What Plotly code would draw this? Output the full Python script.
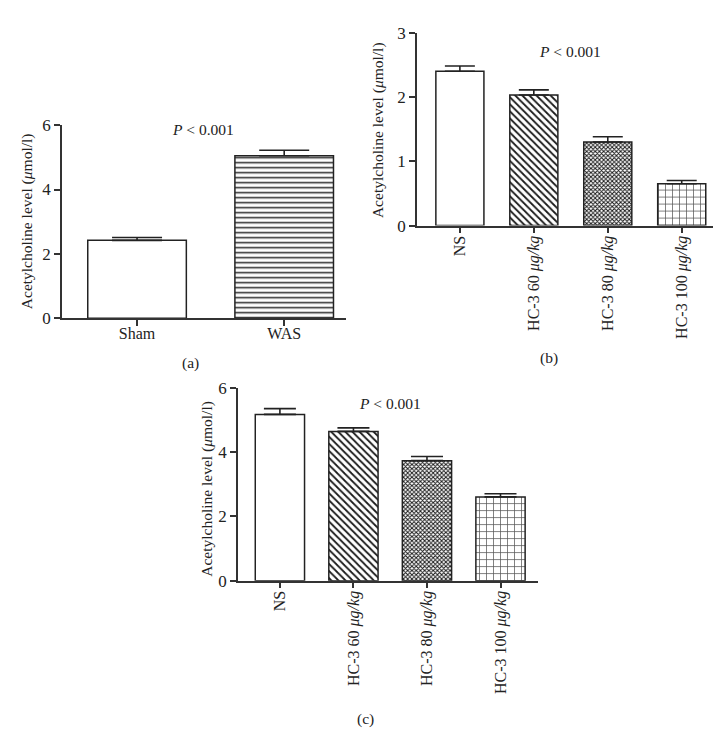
import plotly.graph_objects as go

W, H = 721, 752

# ---- data ----
cats_a = ["Sham", "WAS"]
vals_a = [2.42, 5.05]
errs_a = [0.09, 0.17]

cats_b = ["NS", "HC-3 60 <i>μg/kg</i>", "HC-3 80 <i>μg/kg</i>", "HC-3 100 <i>μg/kg</i>"]
vals_b = [2.40, 2.03, 1.30, 0.65]
errs_b = [0.08, 0.08, 0.08, 0.05]

cats_c = ["NS", "HC-3 60 <i>μg/kg</i>", "HC-3 80 <i>μg/kg</i>", "HC-3 100 <i>μg/kg</i>"]
vals_c = [5.18, 4.65, 3.74, 2.61]
errs_c = [0.18, 0.11, 0.13, 0.10]

FONT = "Liberation Serif, Times New Roman, serif"
INK = "#222222"
AX = "#333333"

def px_x(x):
    return x / W

def px_y(y):
    return 1 - y / H

fig = go.Figure()

def add_panel(idx, cats, vals, errs, shapes, sizes, solid, fg, width, capw):
    xa = "x" if idx == 1 else f"x{idx}"
    ya = "y" if idx == 1 else f"y{idx}"
    fig.add_trace(go.Bar(
        x=cats, y=vals, width=width,
        xaxis=xa, yaxis=ya,
        marker=dict(
            color="white",
            line=dict(color=INK, width=1.5),
            pattern=dict(shape=shapes, size=sizes, solidity=solid,
                         fgcolor=fg, bgcolor="white", fillmode="replace"),
        ),
        error_y=dict(type="data", symmetric=False, array=errs,
                     arrayminus=[0] * len(errs), width=capw,
                     thickness=1.6, color=INK),
        showlegend=False, hoverinfo="skip",
    ))

add_panel(1, cats_a, vals_a, errs_a, ["", "-"], [8, 5], [0.3, 0.32],
          [INK, "#333333"], 0.67, 25)
pat_shapes = ["", "\\", "x", "+"]
pat_sizes = [8, 5, 3, 7]
pat_solid = [0.3, 0.36, 0.55, 0.2]
pat_fg = [INK, "#1a1a1a", "#1a1a1a", "#555555"]
add_panel(2, cats_b, vals_b, errs_b, pat_shapes, pat_sizes, pat_solid, pat_fg, 0.65, 15)
add_panel(3, cats_c, vals_c, errs_c, pat_shapes, pat_sizes, pat_solid, pat_fg, 0.67, 16)

xcommon = dict(showline=True, linecolor=AX, linewidth=1.5, ticks="outside",
               ticklen=6, tickwidth=1.5, tickcolor=AX, showgrid=False,
               zeroline=False, tickfont=dict(family=FONT, size=16, color=INK))
ycommon = dict(showline=True, linecolor=AX, linewidth=1.5, ticks="outside",
               ticklen=6, tickwidth=1.5, tickcolor=AX, showgrid=False,
               zeroline=False, tickfont=dict(family=FONT, size=17, color=INK))

fig.update_layout(
    width=W, height=H,
    margin=dict(l=0, r=0, t=0, b=0),
    paper_bgcolor="white", plot_bgcolor="white",
    font=dict(family=FONT, color=INK),
    xaxis=dict(domain=[px_x(54), px_x(338)], range=[-0.51, 1.42], anchor="y",
               tickangle=0, ticklabelstandoff=-6, **xcommon),
    yaxis=dict(domain=[px_y(309), px_y(111)], range=[0, 6], dtick=2, anchor="x",
               **ycommon),
    xaxis2=dict(domain=[px_x(409), px_x(707)], range=[-0.58, 3.45], anchor="y2",
                tickangle=-90, ticklabelstandoff=-4, **xcommon),
    yaxis2=dict(domain=[px_y(214), px_y(16)], range=[0, 3], dtick=1, anchor="x2",
                **ycommon),
    xaxis3=dict(domain=[px_x(230), px_x(530)], range=[-0.57, 3.51], anchor="y3",
                tickangle=-90, ticklabelstandoff=-4, **xcommon),
    yaxis3=dict(domain=[px_y(578.3), px_y(380.7)], range=[0, 6], dtick=2, anchor="x3",
                **ycommon),
)

ytitle = "Acetylcholine level (<i>μ</i>mol/l)"
anns = [
    # y titles
    dict(x=px_x(18.5), y=px_y(210), text=ytitle, textangle=-90, size=15.5),
    dict(x=px_x(370), y=px_y(116), text=ytitle, textangle=-90, size=15.5),
    dict(x=px_x(199), y=px_y(484), text=ytitle, textangle=-90, size=15.5),
    # p-values
    dict(x=px_x(195), y=px_y(115), text="<i>P</i> < 0.001", textangle=0, size=15.5),
    dict(x=px_x(562), y=px_y(35), text="<i>P</i> < 0.001", textangle=0, size=15.5),
    dict(x=px_x(382), y=px_y(397), text="<i>P</i> < 0.001", textangle=0, size=15.5),
    # panel labels
    dict(x=px_x(182), y=px_y(355), text="(a)", textangle=0, size=15.5),
    dict(x=px_x(541), y=px_y(350), text="(b)", textangle=0, size=15.5),
    dict(x=px_x(357), y=px_y(720), text="(c)", textangle=0, size=15.5),
]
for a in anns:
    fig.add_annotation(x=a["x"], y=a["y"], xref="paper", yref="paper",
                       text=a["text"], textangle=a["textangle"], showarrow=False,
                       xanchor="center", yanchor="middle",
                       font=dict(family=FONT, size=a["size"], color=INK))

fig.write_html("out.html")
